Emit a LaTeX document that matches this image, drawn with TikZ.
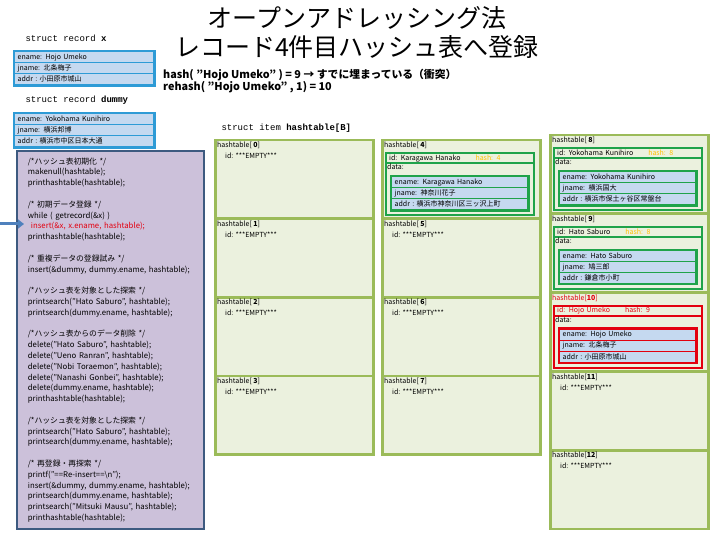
\documentclass[tikz,border=0pt]{standalone}
\usepackage{fontspec}
\setmainfont{Noto Sans CJK JP}
\setmonofont{Liberation Mono}
\usepackage{xcolor}
\usepackage{tikz}
\usetikzlibrary{positioning,arrows.meta}

\definecolor{recblue}{HTML}{2E9BD6}
\definecolor{rowblue}{HTML}{C5D9F0}
\definecolor{codefill}{HTML}{CCC1DA}
\definecolor{codeedge}{HTML}{3D5A80}
\definecolor{cellgreen}{HTML}{9BBB59}
\definecolor{cellfill}{HTML}{EBF1DE}
\definecolor{idgreen}{HTML}{1FA34A}
\definecolor{hashyellow}{HTML}{FFC000}
\definecolor{hitred}{HTML}{E3000F}
\definecolor{arrblue}{HTML}{4F81BD}

\newcommand{\smallfont}{\fontsize{7}{8}\selectfont}
\newcommand{\tightlines}{\lineskiplimit=-10pt\relax}

\tikzset{
  recrow/.style={fill=rowblue,line width=1.4pt,inner xsep=3pt,inner ysep=0pt,
    minimum height=11pt,align=left,font=\smallfont},
  cell/.style={draw=cellgreen,fill=cellfill,line width=2.5pt,anchor=north west,
    minimum width=158pt,minimum height=78.5pt},
  cellhead/.style={anchor=north west,xshift=2pt,yshift=-2pt,inner sep=1pt,font=\smallfont},
  emptyid/.style={anchor=north west,xshift=10pt,yshift=-13pt,inner sep=1pt,font=\smallfont},
  idbox/.style={fill=cellfill,line width=2.2pt,inner xsep=3pt,inner ysep=0pt,
    text width=142pt,minimum height=10pt,align=left,font=\smallfont},
  databox/.style={fill=cellfill,line width=2.2pt,minimum width=148pt,minimum height=52pt},
  structlbl/.style={anchor=west,font=\ttfamily\fontsize{9}{10}\selectfont},
  hashlbl/.style={anchor=west,inner sep=0pt,font=\bfseries\fontsize{10.8}{12}\selectfont},
}

% three rows of a record
\newcommand{\recbox}[7]{%
  \node[recrow,draw=#2,text width=#3,#4] (#1e) {ename: #5};
  \node[recrow,draw=#2,text width=#3,below=-1.4pt of #1e] (#1j) {jname: #6};
  \node[recrow,draw=#2,text width=#3,below=-1.4pt of #1j] (#1a) {addr\ :\ #7};
  \draw[draw=#2,line width=2.4pt] (#1e.north west) rectangle (#1a.south east);
}

% a filled slot of the table
\newcommand{\usedcell}[8]{%
  \node[idbox,draw=#2,text=#3,anchor=north west,xshift=4pt,yshift=-13pt] (#1id) at (#1.north west)
    {id: #5\hspace{15pt}\textcolor{#4}{hash: #6}};
  \node[databox,draw=#2,below=-2.2pt of #1id] (#1data) {};
  \node[anchor=north west,inner sep=2pt,font=\smallfont] (#1dl) at (#1data.north west) {data:};
  \recbox{#1r}{#2}{130pt}{anchor=north west,xshift=6pt,yshift=-14pt,at={(#1data.north west)}}{#5}{#7}{#8}
}

\begin{document}
\begin{tikzpicture}[x=1pt,y=-1pt]
\useasboundingbox[fill=white] (0,0) rectangle (720,540);

% title
\node[align=center,font=\fontsize{25}{29}\selectfont\tightlines] (title) at (357,33)
  {オープンアドレッシング法\\レコード4件目ハッシュ表へ登録};
\node[hashlbl] (hashln) at (163,75) {hash( "Hojo Umeko" ) = 9 → すでに埋まっている（衝突）};
\node[hashlbl] (rehashln) at (163,87) {rehash( "Hojo Umeko" , 1) = 10};

% records
\node[structlbl] (xlbl) at (22,38) {struct record \textbf{x}};
\recbox{x}{recblue}{133pt}{anchor=north west,at={(14,51)}}{Hojo Umeko}{北条梅子}{小田原市城山}
\node[structlbl] (dlbl) at (22,100) {struct record \textbf{dummy}};
\recbox{dm}{recblue}{133pt}{anchor=north west,at={(14,113)}}{Yokohama Kunihiro}{横浜邦博}{横浜市中区日本大通}

% main program
\node[draw=codeedge,fill=codefill,line width=1.8pt,anchor=north west,inner xsep=11pt,
  text width=165pt,minimum height=378pt,align=left,
  font=\fontsize{7.8}{10.8}\selectfont\tightlines] (code) at (16,150) {%
/*ハッシュ表初期化 */\\
makenull(hashtable);\\
printhashtable(hashtable);\\[10.8pt]
/* 初期データ登録 */\\
while ( getrecord(\&x) )\\
\hspace*{3pt}\textcolor{hitred}{insert(\&x, x.ename, hashtable);}\\
printhashtable(hashtable);\\[10.8pt]
/* 重複データの登録試み */\\
insert(\&dummy, dummy.ename, hashtable);\\[10.8pt]
/*ハッシュ表を対象とした探索 */\\
printsearch("Hato Saburo", hashtable);\\
printsearch(dummy.ename, hashtable);\\[10.8pt]
/*ハッシュ表からのデータ削除 */\\
delete("Hato Saburo", hashtable);\\
delete("Ueno Ranran", hashtable);\\
delete("Nobi Toraemon", hashtable);\\
delete("Nanashi Gonbei", hashtable);\\
delete(dummy.ename, hashtable);\\
printhashtable(hashtable);\\[10.8pt]
/*ハッシュ表を対象とした探索 */\\
printsearch("Hato Saburo", hashtable);\\
printsearch(dummy.ename, hashtable);\\[10.8pt]
/* 再登録・再探索 */\\
printf("==Re-insert==\textbackslash n");\\
insert(\&dummy, dummy.ename, hashtable);\\
printsearch(dummy.ename, hashtable);\\
printsearch("Mitsuki Mausu", hashtable);\\
printhashtable(hashtable);};

\coordinate (arrtail) at (0,224);
\draw[arrblue,line width=3pt,-{Triangle[length=6pt,width=9pt]}] (arrtail) -- ([xshift=8pt]code.west |- arrtail);

% hash table
\node[structlbl] (tlbl) at (218,128) {struct item \textbf{hashtable[B]}};
\foreach \i in {0,...,3} \node[cell] (h\i) at (214,{139+78.5*\i}) {};
\foreach \i in {4,...,7} \node[cell] (h\i) at (381,{139+78.5*(\i-4)}) {};
\foreach \i in {8,...,12} \node[cell] (h\i) at (549,{134+78.8*(\i-8)}) {};
\foreach \i in {0,...,12} {
  \ifnum\i=10 \def\hcol{hitred}\else\def\hcol{black}\fi
  \node[cellhead,text=\hcol] (t\i) at (h\i.north west) {hashtable[\ifnum\i<10\ \fi\textbf{\i}]};
}
\foreach \i in {0,1,2,3,5,6,7,11,12}
  \node[emptyid] (e\i) at (h\i.north west) {id: ***EMPTY***};

\usedcell{h4}{idgreen}{black}{hashyellow}{Karagawa Hanako}{4}{神奈川花子}{横浜市神奈川区三ッ沢上町}
\usedcell{h8}{idgreen}{black}{hashyellow}{Yokohama Kunihiro}{8}{横浜国大}{横浜市保土ヶ谷区常盤台}
\usedcell{h9}{idgreen}{black}{hashyellow}{Hato Saburo}{8}{鳩三郎}{鎌倉市小町}
\usedcell{h10}{hitred}{hitred}{hitred}{Hojo Umeko}{9}{北条梅子}{小田原市城山}
\end{tikzpicture}
\end{document}
